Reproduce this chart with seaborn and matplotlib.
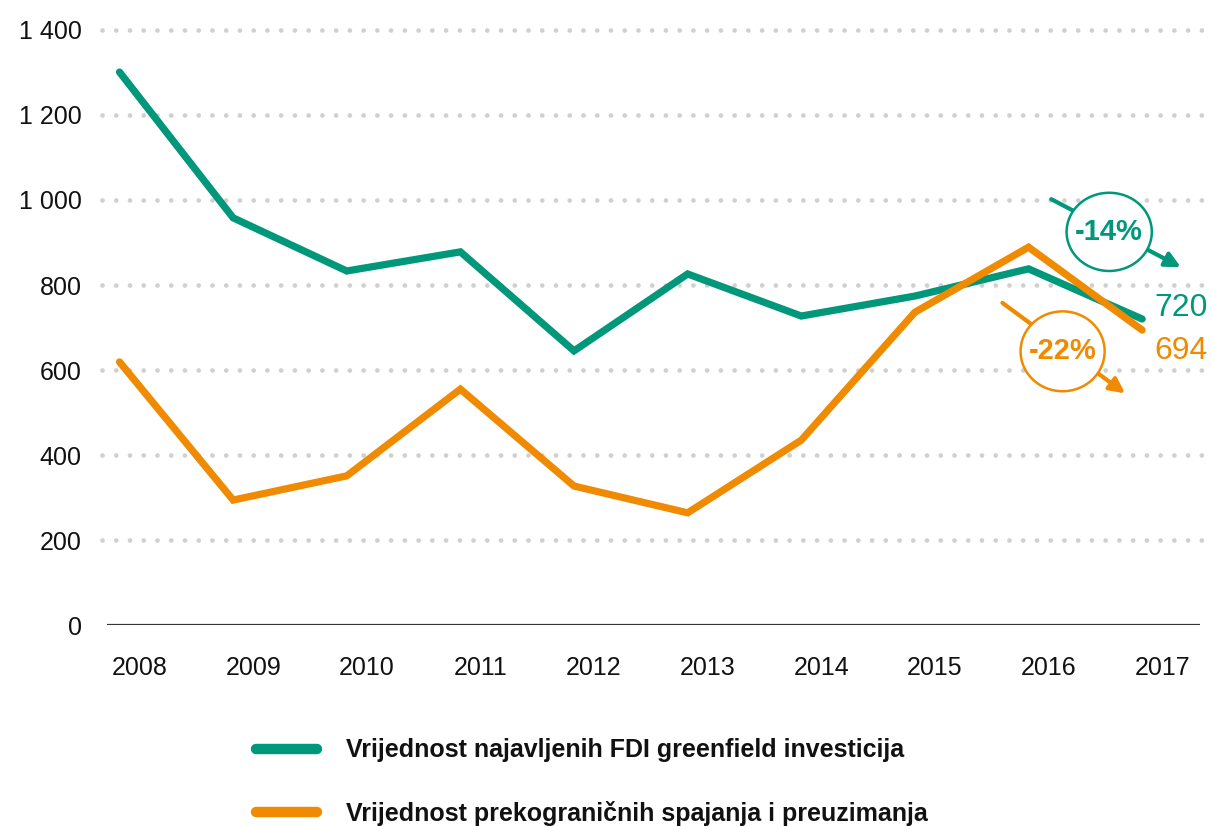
import numpy as np
import pandas as pd
import seaborn as sns
import matplotlib.pyplot as plt
import matplotlib.transforms as mtransforms
from matplotlib.patches import Ellipse

years = [2008, 2009, 2010, 2011, 2012, 2013, 2014, 2015, 2016, 2017]
greenfield = [1301, 958, 833, 878, 645, 826, 727, 774, 838, 720]
mergers = [619, 294, 351, 555, 327, 264, 435, 736, 889, 694]
series_names = ["Vrijednost najavljenih FDI greenfield investicija",
                "Vrijednost prekograničnih spajanja i preuzimanja"]
changes = ["-14%", "-22%"]
y_ticks = [0, 200, 400, 600, 800, 1000, 1200, 1400]
y_tick_labels = ["0", "200", "400", "600", "800", "1 000", "1 200", "1 400"]

GREEN = "#00977a"
ORANGE = "#f08a00"
INK = "#111111"

sns.set_style("white")
plt.rcParams['font.family'] = ['Liberation Sans', 'DejaVu Sans']
plt.rcParams['text.color'] = INK

df = pd.DataFrame({"year": years * 2,
                   "value": greenfield + mergers,
                   "series": [series_names[0]] * len(years) + [series_names[1]] * len(years)})

fig = plt.figure(figsize=(12.11, 8.26), dpi=100)
ax = fig.add_axes([0.088, 0.2433, 0.903, 0.7204])

sns.lineplot(data=df, x="year", y="value", hue="series",
             palette=[GREEN, ORANGE], linewidth=5.2, ax=ax, legend=False,
             solid_capstyle='round', solid_joinstyle='miter')

ax.set_xlim(2007.886, 2017.51)
ax.set_ylim(0, 1400)

# dotted gridlines
for t in y_ticks[1:]:
    ax.plot([2007.85, 2017.6], [t, t], color="#d0d0d0", linewidth=3.4,
            linestyle=(0, (0.01, 2.9)), dash_capstyle='round', zorder=0,
            clip_on=False)
ax.axhline(0, color="#333333", linewidth=1.6, zorder=1)

for s in ax.spines.values():
    s.set_visible(False)

ax.set_yticks(y_ticks)
ax.set_yticklabels(y_tick_labels, fontsize=18, color=INK)
ax.set_xticks(years)
ax.set_xticklabels([str(y) for y in years], fontsize=18, color=INK)
ax.tick_params(axis='both', length=0)
ax.tick_params(axis='y', pad=18)
ax.tick_params(axis='x', pad=22)
# year labels sit a little right of the data points
shift = mtransforms.ScaledTranslation(20 / 100, 0, fig.dpi_scale_trans)
for lab in ax.get_xticklabels():
    lab.set_transform(lab.get_transform() + shift)
ax.set_xlabel("")
ax.set_ylabel("")

# end labels
ax.text(2017.11, 746, str(greenfield[-1]), color=GREEN, fontsize=23,
        va='center', ha='left')
ax.text(2017.11, 645, str(mergers[-1]), color=ORANGE, fontsize=23,
        va='center', ha='left')

# change annotations
arrow = dict(arrowstyle='-|>,head_length=0.9,head_width=0.45', lw=3,
             shrinkA=0, shrinkB=0)
ax.annotate("", xy=(2017.34, 842), xytext=(2016.20, 1002),
            arrowprops=dict(arrow, color=GREEN), zorder=5)
ax.add_patch(Ellipse((2016.71, 925), 0.75, 184, facecolor='white',
                     edgecolor=GREEN, linewidth=1.8, zorder=6))
ax.text(2016.71, 925, changes[0], color=GREEN, fontsize=21, fontweight='bold',
        ha='center', va='center', zorder=7)

ax.annotate("", xy=(2016.85, 545), xytext=(2015.77, 758),
            arrowprops=dict(arrow, color=ORANGE), zorder=5)
ax.add_patch(Ellipse((2016.30, 644), 0.74, 188, facecolor='white',
                     edgecolor=ORANGE, linewidth=1.8, zorder=6))
ax.text(2016.30, 644, changes[1], color=ORANGE, fontsize=21, fontweight='bold',
        ha='center', va='center', zorder=7)

# legend
handles = [plt.Line2D([], [], color=c, linewidth=7.5, solid_capstyle='round')
           for c in (GREEN, ORANGE)]
leg = fig.legend(handles, series_names, loc='upper left',
                 bbox_to_anchor=(0.211, 0.106), bbox_transform=fig.transFigure,
                 frameon=False, prop={'weight': 'bold', 'size': 18},
                 handlelength=2.45, handletextpad=1.16, labelspacing=1.55,
                 borderpad=0, borderaxespad=0)
for txt in leg.get_texts():
    txt.set_color(INK)

fig.savefig("out.png", dpi=100)
